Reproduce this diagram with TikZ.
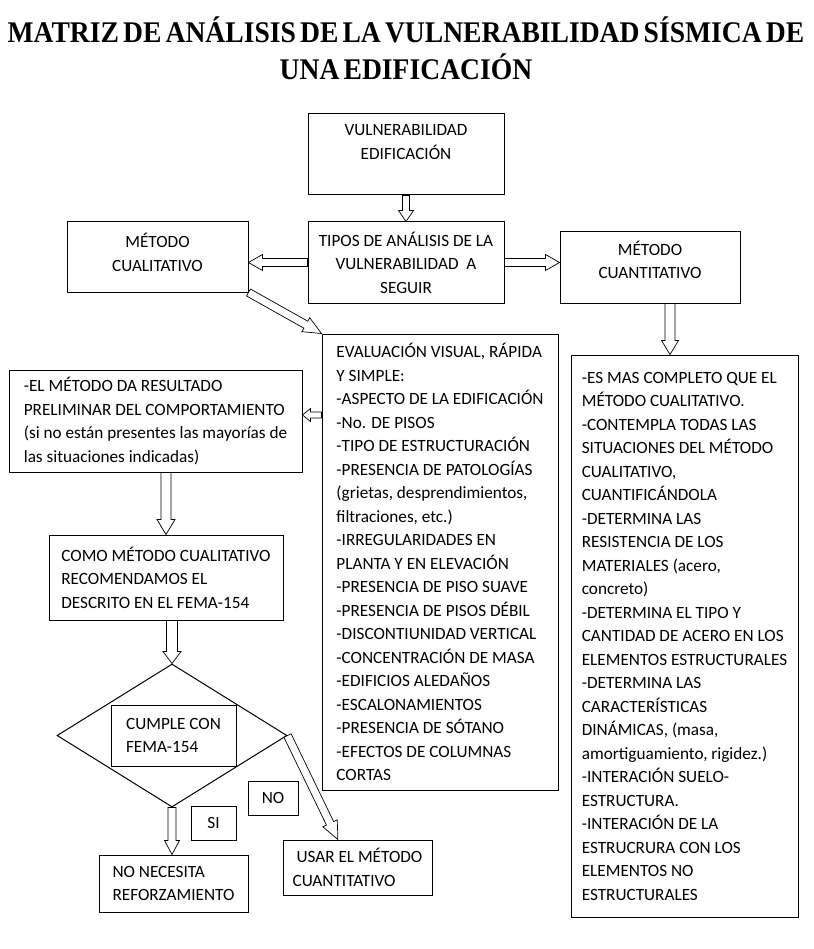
\documentclass[tikz,border=0pt]{standalone}
\usepackage{fontspec}
\setmainfont{Carlito}
\newfontfamily\titlefont[FakeStretch=0.92, WordSpace=0.6]{Liberation Serif}
\usetikzlibrary{calc,shapes.geometric}

\tikzset{
  box/.style={draw, line width=1pt, fill=white, align=left, inner sep=0pt,
    font=\fontsize{17.2}{23.5}\selectfont},
  hollow/.style args={#1/#2/#3}{draw, fill=white, line width=0.7pt,
    to path={
      ($(\tikztostart)!#1!90:(\tikztotarget)$)
      -- ($(\tikztotarget)!#3!(\tikztostart)!#1!-90:(\tikztostart)$)
      -- ($(\tikztotarget)!#3!(\tikztostart)!#2!-90:(\tikztostart)$)
      -- (\tikztotarget)
      -- ($(\tikztotarget)!#3!(\tikztostart)!#2!90:(\tikztostart)$)
      -- ($(\tikztotarget)!#3!(\tikztostart)!#1!90:(\tikztostart)$)
      -- ($(\tikztostart)!#1!-90:(\tikztotarget)$)
      -- cycle}},
}

\begin{document}
\begin{tikzpicture}[x=1pt, y=-1pt]
    \path[use as bounding box, fill=white] (0,0) rectangle (813,949);

    % title
    \node[anchor=base, font=\titlefont\fontsize{30}{36}\selectfont\bfseries] (title1) at (406,42.5) {MATRIZ DE ANÁLISIS DE LA VULNERABILIDAD SÍSMICA DE};
    \node[anchor=base, font=\titlefont\fontsize{30}{36}\selectfont\bfseries] (title2) at (406,80) {UNA EDIFICACIÓN};

    % upper row
    \node[box, align=center, minimum width=196pt, minimum height=81pt, text depth=25pt] (vuln) at (406,154.5) {VULNERABILIDAD\\EDIFICACIÓN};
    \node[box, align=center, minimum width=196pt, minimum height=81pt] (tipos) at (406,262.5) {TIPOS DE ANÁLISIS DE LA\\VULNERABILIDAD\ \ A\\SEGUIR};
    \node[box, align=center, minimum width=181pt, minimum height=70pt, text depth=9pt] (cual) at (157.5,257) {MÉTODO\\CUALITATIVO};
    \node[box, align=center, minimum width=180pt, minimum height=71pt, text depth=15pt] (cuant) at (650,267.5) {MÉTODO\\CUANTITATIVO};

    % lists
    \node[box, minimum width=236pt, minimum height=456pt] (eval) at (440,562) {EVALUACIÓN VISUAL, RÁPIDA\\Y SIMPLE:\\-ASPECTO DE LA EDIFICACIÓN\\-No. DE PISOS\\-TIPO DE ESTRUCTURACIÓN\\-PRESENCIA DE PATOLOGÍAS\\(grietas, desprendimientos,\\filtraciones, etc.)\\-IRREGULARIDADES EN\\PLANTA Y EN ELEVACIÓN\\-PRESENCIA DE PISO SUAVE\\-PRESENCIA DE PISOS DÉBIL\\-DISCONTIUNIDAD VERTICAL\\-CONCENTRACIÓN DE MASA\\-EDIFICIOS ALEDAÑOS\\-ESCALONAMIENTOS\\-PRESENCIA DE SÓTANO\\-EFECTOS DE COLUMNAS\\CORTAS};
    \node[box, minimum width=227pt, minimum height=562pt] (cuantlist) at (684.5,636) {-ES MAS COMPLETO QUE EL\\MÉTODO CUALITATIVO.\\-CONTEMPLA TODAS LAS\\SITUACIONES DEL MÉTODO\\CUALITATIVO,\\CUANTIFICÁNDOLA\\-DETERMINA LAS\\RESISTENCIA DE LOS\\MATERIALES (acero,\\concreto)\\-DETERMINA EL TIPO Y\\CANTIDAD DE ACERO EN LOS\\ELEMENTOS ESTRUCTURALES\\-DETERMINA LAS\\CARACTERÍSTICAS\\DINÁMICAS, (masa,\\amortiguamiento, rigidez.)\\-INTERACIÓN SUELO-\\ESTRUCTURA.\\-INTERACIÓN DE LA\\ESTRUCRURA CON LOS\\ELEMENTOS NO\\ESTRUCTURALES};

    % left column
    \node[box, minimum width=293pt, minimum height=102pt] (prelim) at (155.5,421) {-EL MÉTODO DA RESULTADO\\PRELIMINAR DEL COMPORTAMIENTO\\(si no están presentes las mayorías de\\las situaciones indicadas)};
    \node[box, minimum width=234pt, minimum height=85pt] (como) at (166,577.5) {COMO MÉTODO CUALITATIVO\\RECOMENDAMOS EL\\DESCRITO EN EL FEMA-154};
    \node[diamond, draw, line width=1pt, minimum width=230pt, minimum height=143pt, inner sep=0pt] (dia) at (172,735.5) {};
    \node[box, minimum width=125pt, minimum height=61pt] (cumple) at (173.5,735.5) {CUMPLE CON\\FEMA-154};
    \node[box, align=center, minimum width=45pt, minimum height=34pt] (si) at (213.5,823) {SI};
    \node[box, align=center, minimum width=50pt, minimum height=34pt] (no) at (273,798) {NO};
    \node[box, minimum width=149pt, minimum height=57pt] (nonec) at (173.5,883.5) {NO NECESITA\\REFORZAMIENTO};
    \node[box, minimum width=149pt, minimum height=55pt] (usar) at (357.5,867.5) {\ USAR EL MÉTODO\\CUANTITATIVO};

    \coordinate (cuantout) at ([xshift=20pt]cuant.south);
    \coordinate (prelimin) at ([yshift=6pt]prelim.east);

    % arrows
    \draw[hollow=3.5pt/7.5pt/11pt] (vuln.south) to (tipos.north);
    \draw[hollow=4pt/8pt/14pt] (tipos.west) to (tipos.west -| cual.east);
    \draw[hollow=4pt/8pt/14pt] (tipos.east) to (tipos.east -| cuant.west);
    \draw[hollow=4pt/8pt/18pt] (cual.south east) to (eval.north west);
    \draw[hollow=5pt/8.5pt/14pt] (cuantout) to (cuantout |- cuantlist.north);
    \draw[hollow=3pt/6.5pt/8pt] (eval.west |- prelimin) to (prelimin);
    \draw[hollow=5pt/9pt/15pt] (prelim.south -| como.north) to (como.north);
    \draw[hollow=5.5pt/9pt/12pt] (como.south -| dia.north) to (dia.north);
    \draw[hollow=4pt/7.5pt/14pt] (dia.south) to (dia.south |- nonec.north);
    \draw[hollow=4pt/8pt/18pt] (dia.east) to (usar.125);
\end{tikzpicture}
\end{document}
